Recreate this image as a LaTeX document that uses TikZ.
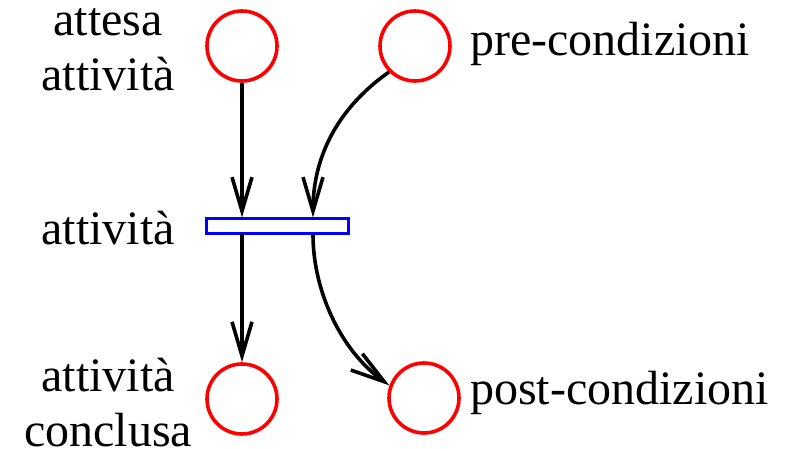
\documentclass[tikz,border=0pt]{standalone}
\usepackage{fontspec}
\setmainfont{Liberation Serif}
\usetikzlibrary{arrows.meta}
\begin{document}
\begin{tikzpicture}[x=1pt,y=-1pt,
  place/.style={circle,draw=red,line width=3.6pt,minimum size=70pt,inner sep=0pt},
  trans/.style={rectangle,draw=blue,line width=3.6pt,minimum width=142pt,minimum height=15pt,inner sep=0pt},
  lbl/.style={font=\fontsize{48}{55}\selectfont,align=center,inner sep=0pt},
  arc/.style={line width=3.6pt,-{Straight Barb[length=34pt,width=20pt,line width=3.6pt]}}]
\useasboundingbox (0,0) rectangle (785,449);
\node[place] (p1) at (242,46) {};
\node[place] (p2) at (415,46) {};
\node[place] (p3) at (242,399) {};
\node[place] (p4) at (424,398) {};
\node[trans] (t) at (277.5,226) {};
\coordinate (tin1) at (242,217.5);
\coordinate (tout1) at (242,234.5);
\coordinate (tin2) at (313,217.5);
\coordinate (tout2) at (313,234.5);
\node[lbl] (l1) at (108,50) {attesa\\attività};
\node[lbl] (l2) at (108,228) {attività};
\node[lbl] (l3) at (108,403) {attività\\conclusa};
\node[lbl,anchor=west] (l4) at (470,44) {pre-condizioni};
\node[lbl,anchor=west] (l5) at (470,393) {post-condizioni};
\draw[arc] (p1) -- (tin1);
\draw[arc] (tout1) -- (p3);
\draw[arc] (p2.225) .. controls (335,110) and (313,160) .. (tin2);
\draw[arc] (tout2) .. controls (313,290) and (340,350) .. (p4.160);
\end{tikzpicture}
\end{document}
